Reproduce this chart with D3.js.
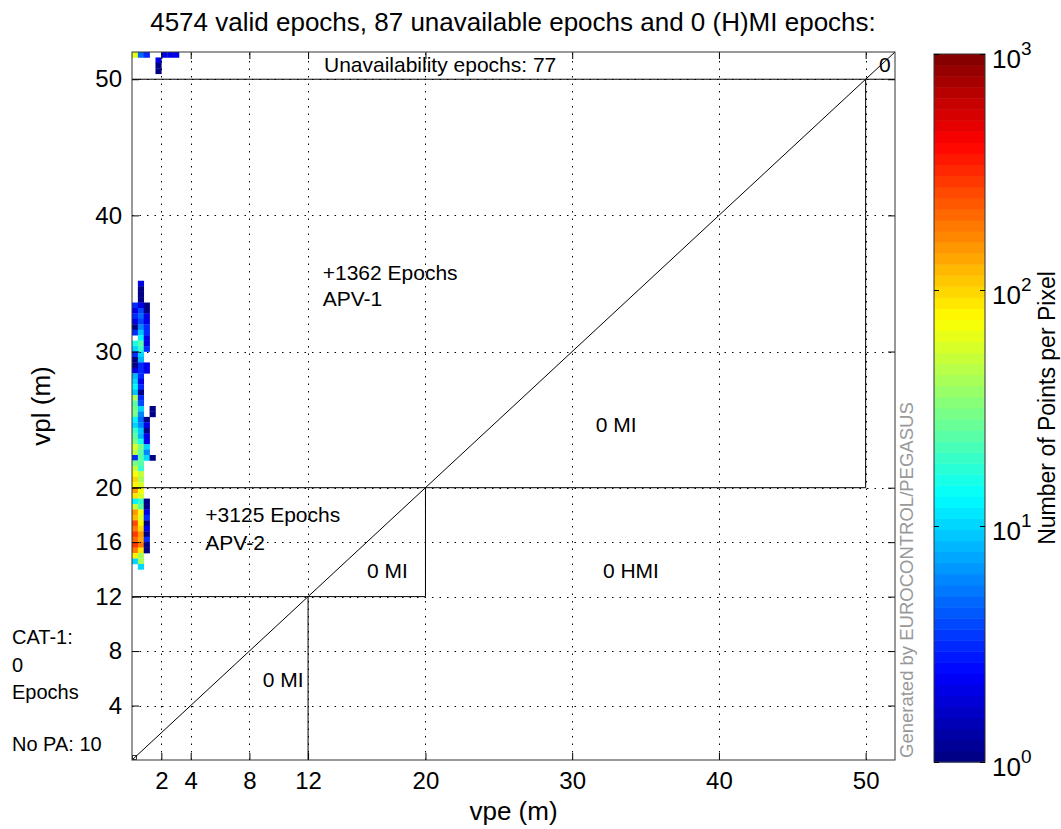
<!DOCTYPE html>
<html>
<head>
<meta charset="utf-8">
<script src="https://cdn.jsdelivr.net/npm/d3@7"></script>
<style>
  body { margin: 0; background: #fff; }
  svg { font-family: "Liberation Sans", Arial, sans-serif; }
</style>
</head>
<body>
<div id="chart"></div>
<script>
// Stanford-style vpe / vpl histogram

const titleText = '4574 valid epochs, 87 unavailable epochs and 0 (H)MI epochs:';
const xTicks = [2, 4, 8, 12, 20, 30, 40, 50];
const yTicks = [4, 8, 12, 16, 20, 30, 40, 50];
const axisMax = 52;
const binSize = 0.4;

// lower vpe edge of each column in the main histogram
const vpeBins = [0, 0.4, 0.8, 1.2];
// lower vpl edge of each row, top to bottom
const vplBins = [34.8, 34.4, 34.0, 33.6, 33.2, 32.8, 32.4, 32.0, 31.6, 31.2, 30.8, 30.4, 30.0,
  29.6, 29.2, 28.8, 28.4, 28.0, 27.6, 27.2, 26.8, 26.4, 26.0, 25.6, 25.2, 24.8, 24.4, 24.0,
  23.6, 23.2, 22.8, 22.4, 22.0, 21.6, 21.2, 20.8, 20.4, 20.0, 19.6, 19.2, 18.8, 18.4, 18.0,
  17.6, 17.2, 16.8, 16.4, 16.0, 15.6, 15.2, 14.8, 14.4, 14.0];
// points per pixel, one row per vplBins entry, one column per vpeBins entry
const binCounts = [
  [0, 2, 0, 0], [0, 1, 0, 0], [0, 1, 0, 0], [0, 1, 0, 0], [3, 2, 1, 0], [2, 4, 1, 0],
  [3, 5, 2, 0], [2, 4, 2, 0], [1, 6, 3, 0], [3, 9, 3, 0], [0, 12, 2, 0], [15, 25, 2, 0],
  [10, 20, 3, 0], [3, 10, 0, 0], [1, 8, 0, 0], [1, 3, 2, 0], [2, 3, 2, 0], [8, 3, 0, 0],
  [10, 2, 0, 0], [12, 3, 0, 0], [9, 1, 0, 0], [40, 3, 0, 0], [25, 4, 0, 0], [30, 10, 0, 1],
  [30, 6, 0, 1], [12, 5, 1, 0], [10, 6, 2, 0], [20, 9, 1, 0], [25, 8, 2, 0], [30, 15, 2, 0],
  [60, 30, 10, 0], [45, 25, 6, 0], [3, 25, 10, 1], [30, 25, 0, 0], [50, 20, 0, 0],
  [70, 50, 0, 0], [100, 40, 0, 0], [80, 60, 0, 0], [150, 70, 0, 0], [90, 60, 0, 0],
  [12, 20, 1, 0], [50, 25, 1, 0], [150, 70, 2, 0], [120, 60, 3, 0], [250, 80, 1, 0],
  [180, 100, 2, 0], [300, 150, 1, 0], [200, 130, 3, 0], [300, 180, 1, 0], [180, 90, 1, 0],
  [80, 40, 0, 0], [10, 40, 0, 0], [0, 10, 0, 0]
];
// unavailable epochs (vpl above 50): [vpe, vpl, count]
const unavailCells = [
  [0, 51.6, 65], [0.4, 51.6, 5], [0.8, 51.6, 3], [2.0, 51.6, 2], [2.4, 51.6, 2], [2.8, 51.6, 2],
  [1.6, 51.2, 2], [1.6, 50.8, 1], [1.6, 50.4, 1]
];

// region boundaries: [x1, y1, x2, y2]
const regionLines = [
  [0, 50, 52, 50], [50, 20, 50, 50], [0, 20, 50, 20], [20, 12, 20, 20],
  [0, 12, 20, 12], [12, 0, 12, 12], [0, 0, 52, 52]
];
// annotations: [vpe, vpl, text, anchor]
const plotLabels = [
  [21, 51.05, 'Unavailability epochs: 77', 'middle'],
  [51.3, 51.05, '0', 'middle'],
  [13, 35.8, '+1362 Epochs', 'start'],
  [13, 33.9, 'APV-1', 'start'],
  [33, 24.6, '0 MI', 'middle'],
  [5, 18.0, '+3125 Epochs', 'start'],
  [5, 16.0, 'APV-2', 'start'],
  [17.4, 13.9, '0 MI', 'middle'],
  [34, 13.9, '0 HMI', 'middle'],
  [10.3, 5.9, '0 MI', 'middle']
];
const sideLabels = [[9.0, 'CAT-1:'], [7.0, '0'], [5.0, 'Epochs'], [1.2, 'No PA: 10']];
const colorTicks = [0, 1, 2, 3];

const width = 1061, height = 829;
const margin = { top: 52, right: 166, bottom: 69, left: 132 };

const svg = d3.select('#chart').append('svg')
  .attr('width', width)
  .attr('height', height);

const x = d3.scaleLinear().domain([0, axisMax]).range([margin.left, width - margin.right]);
const y = d3.scaleLinear().domain([0, axisMax]).range([height - margin.bottom, margin.top]);

// MATLAB jet, 64 levels
function jet(t) {
  t = Math.max(0, Math.min(1, t));
  t = (Math.min(63, Math.floor(t * 64)) + 0.5) / 64;
  const c = v => Math.round(255 * Math.max(0, Math.min(1, v)));
  return `rgb(${c(1.5 - Math.abs(4 * t - 3))},${c(1.5 - Math.abs(4 * t - 2))},${c(1.5 - Math.abs(4 * t - 1))})`;
}
const colorOf = n => jet(Math.log10(n) / 3);

// flatten the histogram
const cells = [];
vplBins.forEach((vpl, i) => {
  vpeBins.forEach((vpe, j) => {
    if (binCounts[i][j] > 0) cells.push({ vpe: vpe, vpl: vpl, n: binCounts[i][j] });
  });
});
unavailCells.forEach(d => cells.push({ vpe: d[0], vpl: d[1], n: d[2] }));

svg.selectAll('.cell')
  .data(cells)
  .enter().append('rect')
  .attr('class', 'cell')
  .attr('x', d => x(d.vpe))
  .attr('y', d => y(d.vpl + binSize))
  .attr('width', x(binSize) - x(0) + 0.3)
  .attr('height', y(0) - y(binSize) + 0.3)
  .attr('fill', d => colorOf(d.n));

// grid
const grid = svg.append('g')
  .attr('stroke', '#000')
  .attr('stroke-width', 1)
  .attr('stroke-dasharray', '1.5,6');
grid.selectAll('.gx')
  .data(xTicks)
  .enter().append('line')
  .attr('x1', d => Math.round(x(d)) + 0.5)
  .attr('x2', d => Math.round(x(d)) + 0.5)
  .attr('y1', y(0))
  .attr('y2', y(axisMax));
grid.selectAll('.gy')
  .data(yTicks)
  .enter().append('line')
  .attr('y1', d => Math.round(y(d)) + 0.5)
  .attr('y2', d => Math.round(y(d)) + 0.5)
  .attr('x1', x(0))
  .attr('x2', x(axisMax));

// region lines
svg.selectAll('.region')
  .data(regionLines)
  .enter().append('line')
  .attr('class', 'region')
  .attr('x1', d => x(d[0]))
  .attr('y1', d => y(d[1]))
  .attr('x2', d => x(d[2]))
  .attr('y2', d => y(d[3]))
  .attr('stroke', '#000')
  .attr('stroke-width', 1);

// origin marker
svg.append('rect')
  .attr('x', x(0) + 0.5)
  .attr('y', y(0) - 4.5)
  .attr('width', 4)
  .attr('height', 4)
  .attr('fill', 'none')
  .attr('stroke', '#000')
  .attr('stroke-width', 0.8);

// axes with inward ticks
function styleAxis(g) {
  g.select('.domain').remove();
  g.selectAll('line').attr('stroke', '#000');
  g.selectAll('text').style('font-size', '24px').attr('fill', '#000');
}
svg.append('g')
  .attr('transform', `translate(0,${y(0)})`)
  .call(d3.axisBottom(x).tickValues(xTicks).tickSizeInner(-7).tickSizeOuter(0).tickPadding(12))
  .call(styleAxis);
svg.append('g')
  .attr('transform', `translate(0,${y(axisMax)})`)
  .call(d3.axisTop(x).tickValues(xTicks).tickSizeInner(-7).tickSizeOuter(0).tickFormat(''))
  .call(styleAxis);
svg.append('g')
  .attr('transform', `translate(${x(0)},0)`)
  .call(d3.axisLeft(y).tickValues(yTicks).tickSizeInner(-7).tickSizeOuter(0).tickPadding(10))
  .call(styleAxis);
svg.append('g')
  .attr('transform', `translate(${x(axisMax)},0)`)
  .call(d3.axisRight(y).tickValues(yTicks).tickSizeInner(-7).tickSizeOuter(0).tickFormat(''))
  .call(styleAxis);

svg.append('rect')
  .attr('x', x(0))
  .attr('y', y(axisMax))
  .attr('width', x(axisMax) - x(0))
  .attr('height', y(0) - y(axisMax))
  .attr('fill', 'none')
  .attr('stroke', '#333')
  .attr('stroke-width', 1);

// texts
svg.append('text')
  .attr('x', 513)
  .attr('y', 31)
  .attr('text-anchor', 'middle')
  .style('font-size', '26px')
  .text(titleText);

svg.selectAll('.plabel')
  .data(plotLabels)
  .enter().append('text')
  .attr('x', d => x(d[0]))
  .attr('y', d => y(d[1]))
  .attr('dy', '0.35em')
  .attr('text-anchor', d => d[3])
  .style('font-size', '21px')
  .text(d => d[2]);

svg.selectAll('.slabel')
  .data(sideLabels)
  .enter().append('text')
  .attr('x', 12)
  .attr('y', d => y(d[0]))
  .attr('dy', '0.35em')
  .style('font-size', '20px')
  .text(d => d[1]);

svg.append('text')
  .attr('transform', `translate(${x(26)},${height - 9})`)
  .attr('text-anchor', 'middle')
  .style('font-size', '26px')
  .text('vpe (m)');

svg.append('text')
  .attr('transform', `translate(50,${y(26)}) rotate(-90)`)
  .attr('text-anchor', 'middle')
  .style('font-size', '26px')
  .text('vpl (m)');

svg.append('text')
  .attr('transform', `translate(913,${y(0) - 2}) rotate(-90)`)
  .attr('text-anchor', 'start')
  .attr('fill', '#999')
  .style('font-size', '18.5px')
  .text('Generated by EUROCONTROL/PEGASUS');

// colorbar
const cb = { x: 934, w: 51, top: 54, bottom: 762 };
const cy = d3.scaleLinear().domain([0, 3]).range([cb.bottom, cb.top]);
const bands = d3.range(64);
svg.selectAll('.band')
  .data(bands)
  .enter().append('rect')
  .attr('class', 'band')
  .attr('x', cb.x)
  .attr('y', d => cy(3 * (d + 1) / 64))
  .attr('width', cb.w)
  .attr('height', cy(0) - cy(3 / 64) + 0.5)
  .attr('fill', d => jet((d + 0.5) / 64));
svg.append('rect')
  .attr('x', cb.x)
  .attr('y', cb.top)
  .attr('width', cb.w)
  .attr('height', cb.bottom - cb.top)
  .attr('fill', 'none')
  .attr('stroke', '#333');
svg.append('g')
  .attr('transform', `translate(${cb.x + cb.w},0)`)
  .call(d3.axisRight(cy).tickValues(colorTicks).tickSizeInner(-5).tickSizeOuter(0).tickFormat(''))
  .call(styleAxis);
svg.append('g')
  .attr('transform', `translate(${cb.x},0)`)
  .call(d3.axisLeft(cy).tickValues(colorTicks).tickSizeInner(-5).tickSizeOuter(0).tickFormat(''))
  .call(styleAxis);

const cbl = svg.selectAll('.cblabel')
  .data(colorTicks)
  .enter().append('text')
  .attr('class', 'cblabel')
  .attr('x', cb.x + cb.w + 7)
  .attr('y', d => cy(d) + 14);
cbl.append('tspan').style('font-size', '26px').text('10');
cbl.append('tspan').style('font-size', '19px').attr('dy', -13).text(d => d);

svg.append('text')
  .attr('transform', `translate(1055,${(cb.top + cb.bottom) / 2}) rotate(-90)`)
  .attr('text-anchor', 'middle')
  .style('font-size', '23px')
  .text('Number of Points per Pixel');
</script>
</body>
</html>
